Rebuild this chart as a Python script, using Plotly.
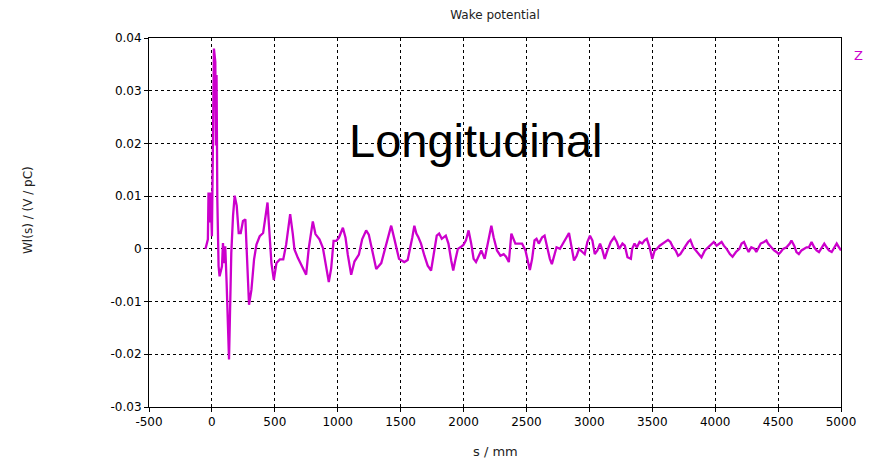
import plotly.graph_objects as go

# s / mm
s_mm = [-51, -32, -27, -19, -11, 0, 8, 16, 27, 32, 37, 43, 53, 61, 80, 88, 96, 106, 117, 128, 136, 141,
        154, 168, 181, 197, 213, 229, 247, 266, 282, 295, 314, 335, 354, 380, 407, 426, 442, 452, 473,
        492, 513, 540, 567,
        590, 622, 643, 656, 683, 723, 749, 770, 802, 823, 855, 882, 908, 929, 948, 967, 988, 1009, 1041,
        1062, 1080, 1107, 1133, 1168, 1194, 1226, 1247, 1274, 1306, 1346, 1380, 1425, 1451,
        1468, 1487, 1508, 1529, 1556, 1574, 1593, 1609, 1625, 1641, 1662, 1689, 1715, 1742, 1761, 1787,
        1806, 1827, 1859, 1880, 1902, 1918, 1934, 1955, 1981, 2000, 2019, 2040, 2061, 2080, 2099, 2120,
        2141, 2168, 2186, 2205, 2221, 2239, 2266, 2293, 2319, 2338, 2360, 2380,
        2412, 2439, 2465, 2492, 2511, 2527, 2545, 2564, 2580, 2598, 2625, 2644, 2665, 2686, 2702, 2718,
        2739, 2766, 2793, 2819, 2838, 2856, 2878, 2899, 2918, 2944, 2963, 2984, 3005, 3024, 3043, 3064,
        3085, 3104, 3122, 3144, 3170, 3197, 3218, 3237, 3263, 3282, 3303, 3330,
        3340, 3359, 3378, 3399, 3420, 3439, 3457, 3479, 3500, 3519, 3537, 3559, 3585, 3606, 3625, 3644,
        3665, 3686, 3705, 3723, 3745, 3766, 3785, 3803, 3825, 3846, 3872, 3891, 3918, 3944, 3971, 3989,
        4011, 4032, 4051, 4069, 4091, 4117, 4138, 4165, 4192, 4210, 4229,
        4247, 4266, 4287, 4314, 4327, 4346, 4362, 4388, 4407, 4420, 4434, 4452, 4468, 4487, 4505, 4521,
        4540, 4567, 4593, 4606, 4628, 4646, 4665, 4686, 4707, 4726, 4745, 4766, 4787, 4806, 4825, 4846,
        4867, 4886, 4904, 4926, 4947, 4966, 4984, 5000]

# Wl(s) / (V/pC)
wake_z = [0, 0.0018, 0.0107, 0.005, 0.0107, 0.0024, 0.0196, 0.038, 0.0355, 0.0196, 0.033, 0.0094, -0.0033,
          -0.0052, -0.0033, 0.0011, -0.0027, 0.0005, -0.0065, -0.0154, -0.021, -0.0154,
          -0.0008, 0.0063, 0.0101, 0.0082, 0.003, 0.003, 0.0053, 0.0056, -0.004, -0.0106, -0.0078, -0.002,
          0.0008, 0.0024, 0.003, 0.0061, 0.0088, 0.005, -0.0027, -0.0059, -0.0027, -0.002, -0.002,
          0.0008, 0.0066, 0.0028, -0.0001, -0.0017, -0.0037, -0.0049, 0.0002, 0.0052, 0.0028, 0.0018,
          0.0002, -0.003, -0.0063, -0.0037, 0.0015, 0.0015, 0.0021, 0.004, 0.0021, -0.0011, -0.0049,
          -0.0024, -0.0011, 0.0018, 0.0035, 0.0027, -0.0004, -0.0038, -0.0027, 0.0002, 0.0044, 0.0018,
          -0.0003, -0.0019, -0.0022, -0.0025, -0.0021, -0.0003, 0.0022, 0.0044, 0.0029, 0.0022, 0.001,
          -0.0013, -0.0032, -0.0041, -0.001, 0.0025, 0.0029, 0.0019, 0.0025, 0.001, -0.0022, -0.0041,
          -0.0022, 0, 0.0004, 0.0008, 0.0016, 0.0035, 0.001, -0.0019, -0.0025, -0.0013, -0.0003, -0.0019,
          0.0003, 0.0029, 0.0044, 0.0022, -0.0003, -0.0013, -0.001, -0.0015, -0.0025, 0.0029,
          0.001, 0.001, 0.001, -0.0003, -0.0025, -0.004, -0.0019, 0.0016, 0.0019, 0.001, 0.0022, 0.0025,
          0.0003, -0.0019, -0.0029, -0.0013, 0.0003, 0, 0.001, 0.0022, 0.003, 0.0003, -0.0022, -0.0013,
          0, -0.0006, -0.001, 0.0013, 0.0025, 0.0016, -0.001, -0.0003, 0.001, -0.0003, -0.0019, -0.0003,
          0.0013, 0.0022, 0.0013, 0, 0.001, 0.0006, -0.0016, -0.0019,
          0, 0.001, 0.0003, 0.0013, 0.001, 0.0016, 0.0019, 0.0003, -0.0019, -0.0003, 0, 0.0006, 0.001,
          0.0013, 0.0017, 0.0013, 0.0003, -0.0003, -0.0013, -0.001, -0.0003, 0.0006, 0.0013, 0.0017,
          0.0003, -0.0003, -0.001, -0.0016, -0.0003, 0.0003, 0.001, 0.0013, 0.0006, 0.001, 0.0013,
          0.0006, 0, -0.001, -0.0015, -0.0006, 0, 0.001, 0.0013,
          0.0003, -0.0006, 0.0003, 0, -0.0006, 0.0003, 0.001, 0.0013, 0.0016, 0.001, 0.0006, 0.0003,
          -0.0003, -0.0006, -0.001, -0.0006, 0, 0.0003, 0.001, 0.0016, 0.0006, -0.0006, -0.001, -0.0003,
          0, 0.0003, 0.0003, 0.0013, 0.0003, -0.0003, -0.0006, 0.0003, 0.001, 0.0003, -0.0003, -0.0006,
          0.0003, 0.001, 0.0003, -0.0003]

x_ticks = [-500, 0, 500, 1000, 1500, 2000, 2500, 3000, 3500, 4000, 4500, 5000]
x_tick_text = ["-500", "0", "500", "1000", "1500", "2000", "2500", "3000", "3500", "4000", "4500", "5000"]
y_ticks = [-0.03, -0.02, -0.01, 0, 0.01, 0.02, 0.03, 0.04]
y_tick_text = ["-0.03", "-0.02", "-0.01", "0", "0.01", "0.02", "0.03", "0.04"]

MAGENTA = "#CC00CC"
FONT = "DejaVu Sans"

fig = go.Figure()
fig.add_trace(go.Scatter(x=s_mm, y=wake_z, mode="lines", name="Z",
                         line=dict(color=MAGENTA, width=2.3), showlegend=False))

axis_common = dict(showline=True, linecolor="#000000", linewidth=1, mirror=True,
                   showgrid=True, gridcolor="#000000", gridwidth=1, griddash="3px,3px",
                   zeroline=False, ticks="outside", ticklen=4, tickcolor="#000000",
                   tickfont=dict(family=FONT, size=12, color="#000000"))

fig.update_xaxes(range=[-500, 5000], tickvals=x_ticks, ticktext=x_tick_text, **axis_common)
fig.update_yaxes(range=[-0.03, 0.04], tickvals=y_ticks, ticktext=y_tick_text, **axis_common)

fig.update_layout(
    width=875, height=469,
    margin=dict(l=149, r=34, t=38, b=62),
    paper_bgcolor="white", plot_bgcolor="white",
    title=dict(text="Wake potential", x=0.5, xref="paper", y=1 - 15 / 469, yref="container",
               xanchor="center", yanchor="middle",
               font=dict(family=FONT, size=12, color="#222222")),
    annotations=[
        dict(text="Longitudinal", x=2095, y=0.0205, xref="x", yref="y", showarrow=False,
             xanchor="center", yanchor="middle",
             font=dict(family="Liberation Sans", size=47, color="#000000")),
        dict(text="Z", x=(858 - 149) / 692, y=(407 - 55) / 369, xref="paper", yref="paper",
             showarrow=False, xanchor="center", yanchor="middle",
             font=dict(family=FONT, size=13, color=MAGENTA)),
        dict(text="Wl(s) / (V / pC)", x=(28 - 149) / 692, y=(407 - 210) / 369,
             xref="paper", yref="paper", showarrow=False, textangle=-90,
             xanchor="center", yanchor="middle",
             font=dict(family=FONT, size=12, color="#222222")),
        dict(text="s / mm", x=0.5, y=(407 - 451) / 369, xref="paper", yref="paper",
             showarrow=False, xanchor="center", yanchor="middle",
             font=dict(family=FONT, size=13, color="#222222")),
    ],
)

fig.write_html("out.html")
